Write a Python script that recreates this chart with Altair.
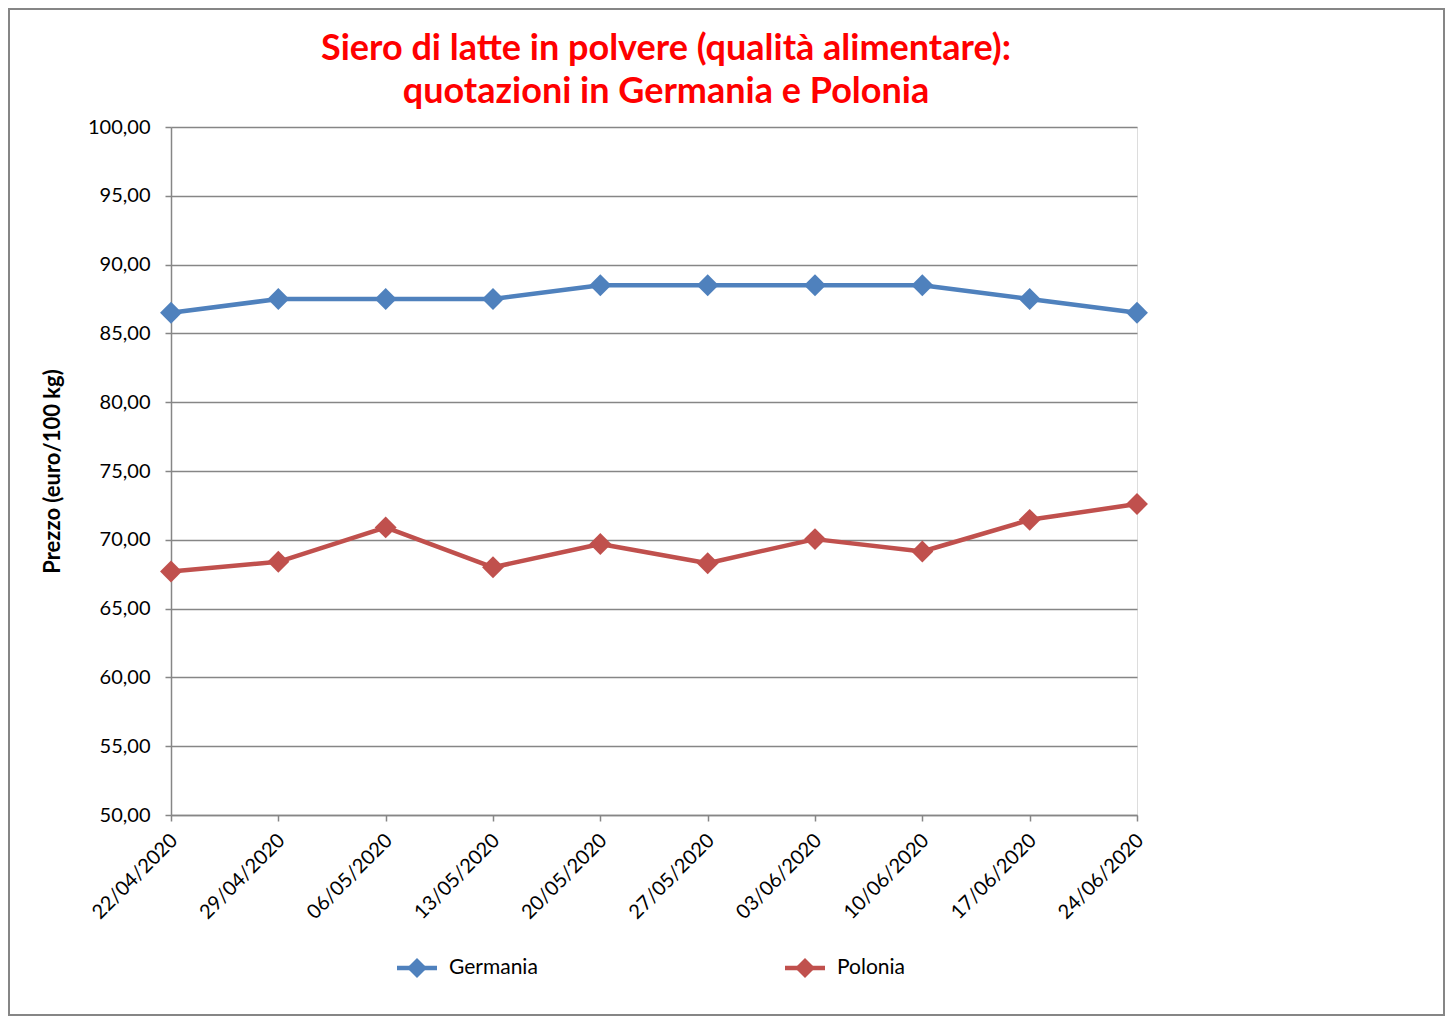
import altair as alt
import pandas as pd

dates = ["22/04/2020", "29/04/2020", "06/05/2020", "13/05/2020", "20/05/2020",
         "27/05/2020", "03/06/2020", "10/06/2020", "17/06/2020", "24/06/2020"]
germania = [86.5, 87.5, 87.5, 87.5, 88.5, 88.5, 88.5, 88.5, 87.5, 86.5]
polonia = [67.7, 68.4, 70.9, 68.0, 69.7, 68.3, 70.05, 69.15, 71.45, 72.6]
series = ["Germania", "Polonia"]
colors = ["#4F81BD", "#C0504D"]

rows = []
for d, g, p in zip(dates, germania, polonia):
    rows.append({"data": d, "paese": "Germania", "prezzo": g})
    rows.append({"data": d, "paese": "Polonia", "prezzo": p})
df = pd.DataFrame(rows)
legend_df = pd.DataFrame({"paese": series, "idx": list(range(len(series)))})

FONT = "Lato"
W, H = 966, 688
PL, PT, PR, PB = 163, 119, 308, 201

color_enc = alt.Color("paese:N", scale=alt.Scale(domain=series, range=colors), legend=None)

x_axis = alt.Axis(title=None, labelAngle=-45, labelAlign="right",
                  labelBaseline="middle", labelPadding=16, labelOffset=3,
                  labelFontSize=20, labelFont=FONT, labelColor="#000000",
                  tickSize=6, tickColor="#868686", tickWidth=1.5,
                  domainColor="#868686", domainWidth=1.5, grid=False)
x_scale = alt.Scale(type="point", padding=0)

y_enc = alt.Y("prezzo:Q",
              scale=alt.Scale(domain=[50, 100], nice=False, zero=False),
              axis=alt.Axis(title="Prezzo (euro/100 kg)", values=list(range(50, 101, 5)),
                            labelExpr="replace(format(datum.value, '.2f'), '.', ',')",
                            labelFontSize=20, labelFont=FONT, labelColor="#000000",
                            labelPadding=15,
                            tickSize=6, tickColor="#868686", tickWidth=1.5,
                            domainColor="#868686", domainWidth=1.5,
                            grid=True, gridColor="#868686", gridWidth=1.5,
                            titleFont=FONT, titleFontSize=22, titleFontWeight="bold",
                            titleColor="#000000", titleAngle=-90,
                            titleX=-119, titleY=H / 2, titleAlign="center",
                            titleBaseline="middle"))

lines = alt.Chart(df).mark_line(strokeWidth=4.5, strokeJoin="round").encode(
    x=alt.X("data:O", sort=dates, scale=x_scale, axis=x_axis),
    y=y_enc,
    color=color_enc,
)

points = alt.Chart(df).mark_point(shape="diamond", filled=True, size=480, opacity=1).encode(
    x=alt.X("data:O", sort=dates, scale=x_scale, axis=None),
    y=y_enc,
    color=color_enc,
)

# legend (line + diamond + label), laid out along its own pixel scale
leg_x = alt.X("idx:Q", scale=alt.Scale(domain=[0, 1], range=[246, 634]), axis=None)
leg_y = alt.value(841)
leg_line = alt.Chart(legend_df).mark_rule(strokeWidth=4.5, xOffset=-20, x2Offset=20,
                                          clip=False).encode(
    x=leg_x, x2=alt.X2("idx:Q"), y=leg_y, color=color_enc)
leg_point = alt.Chart(legend_df).mark_point(shape="diamond", filled=True, size=400,
                                            opacity=1, clip=False).encode(
    x=leg_x, y=leg_y, color=color_enc)
leg_text = alt.Chart(legend_df).mark_text(align="left", baseline="middle", dx=32,
                                          font=FONT, fontSize=21, color="#000000",
                                          clip=False).encode(
    x=leg_x, y=leg_y, text="paese:N")

border_df = pd.DataFrame({"k": [0]})
border = alt.Chart(border_df).mark_rect(filled=False, stroke="#868686", strokeWidth=2,
                                        clip=False).encode(
    x=alt.value(-PL + 1),
    x2=alt.value(W + PR - 1),
    y=alt.value(-PT + 1),
    y2=alt.value(H + PB - 1),
)

chart = alt.layer(lines, points, leg_line, leg_point, leg_text, border).resolve_scale(
    x="independent"
).properties(
    width=W, height=H,
    padding={"left": PL, "top": PT, "right": PR, "bottom": PB},
    autosize=alt.AutoSizeParams(type="none"),
    title=alt.TitleParams(
        text=["Siero di latte in polvere (qualità alimentare):",
              "quotazioni in Germania e Polonia"],
        color="#FF0000", font=FONT, fontSize=36, fontWeight="bold",
        anchor="middle", dx=12, dy=151, offset=20, lineHeight=43,
        baseline="alphabetic",
    ),
).configure_view(stroke=None).configure(background="#FFFFFF")

chart.save("out.html", embed_options={"renderer": "svg", "actions": False})
